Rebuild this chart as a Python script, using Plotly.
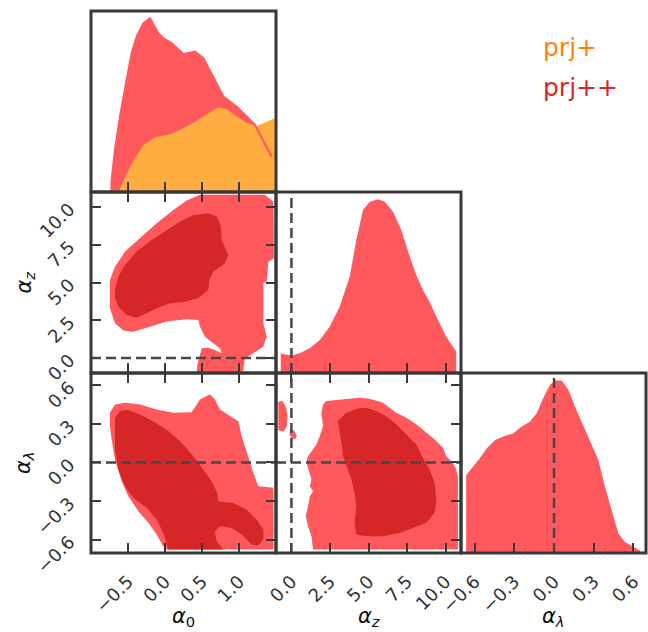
import plotly.graph_objects as go

# ---------------------------------------------------------------------------
# Parameter ranges, ticks and reference values
# ---------------------------------------------------------------------------
a0_range = [-1.0, 1.5]
az_range = [-1.0, 11.0]
al_range = [-0.703, 0.695]
dens_range = [0.0, 1.04]

a0_ticks = [-0.5, 0.0, 0.5, 1.0]
az_ticks = [0.0, 2.5, 5.0, 7.5, 10.0]
al_ticks = [-0.6, -0.3, 0.0, 0.3, 0.6]

az_ref = 0.0
al_ref = 0.0

# ---------------------------------------------------------------------------
# 1D marginals (peak-normalised)
# ---------------------------------------------------------------------------
a0_pp_x = [-0.725, -0.720, -0.676, -0.608, -0.518, -0.450, -0.382, -0.293, -0.203,
           -0.091, -0.023, 0.091, 0.247, 0.405, 0.518, 0.653, 0.788, 0.969, 1.104,
           1.216, 1.239, 1.442]
a0_pp_y = [0.0, 0.069, 0.241, 0.431, 0.644, 0.797, 0.892, 0.969, 0.998,
           0.912, 0.883, 0.854, 0.793, 0.806, 0.768, 0.662, 0.548, 0.490, 0.433,
           0.385, 0.366, 0.203]

a0_p_x = [-0.620, -0.608, -0.585, -0.473, -0.293, -0.135, 0.068, 0.203, 0.405,
          0.585, 0.720, 0.834, 0.969, 1.104, 1.239, 1.500]
a0_p_y = [0.0, 0.021, 0.040, 0.145, 0.270, 0.314, 0.332, 0.356, 0.404,
          0.452, 0.487, 0.475, 0.433, 0.398, 0.379, 0.427]

az_pp_x = [-0.69, -0.54, 0.0, 0.54, 1.19, 1.84, 2.48, 3.13, 3.78, 4.21, 4.64, 5.08,
           5.62, 6.05, 6.59, 7.13, 7.67, 8.10, 8.53, 8.96, 9.40, 10.04, 10.69]
az_pp_y = [0.113, 0.109, 0.100, 0.113, 0.142, 0.190, 0.266, 0.381, 0.553, 0.764,
           0.936, 0.984, 0.998, 0.984, 0.927, 0.822, 0.670, 0.563, 0.477, 0.410,
           0.324, 0.209, 0.123]

al_pp_x = [-0.664, -0.621, -0.571, -0.508, -0.445, -0.370, -0.307, -0.244, -0.181,
           -0.131, -0.081, -0.030, 0.008, 0.058, 0.108, 0.158, 0.221, 0.284, 0.335,
           0.385, 0.435, 0.486, 0.536, 0.599, 0.649]
al_pp_y = [0.450, 0.489, 0.537, 0.605, 0.653, 0.677, 0.692, 0.731, 0.760,
           0.808, 0.895, 0.972, 0.997, 0.997, 0.943, 0.847, 0.740, 0.634, 0.537,
           0.383, 0.247, 0.112, 0.064, 0.039, 0.015]

# ---------------------------------------------------------------------------
# 2D credible regions (68% inner, 95% outer)
# ---------------------------------------------------------------------------
# alpha_0 vs alpha_z
a0az_95_x = [-0.744, -0.676, -0.541, -0.338, -0.113, 0.112, 0.293, 0.473, 0.923, 1.351,
             1.464, 1.473, 1.396, 1.374, 1.329, 1.329, 1.374, 1.329, 1.193, 1.081,
             1.049, 0.428, 0.437, 0.495, 0.585, 0.675, 0.765, 0.743, 0.653, 0.540,
             0.473, 0.450, 0.293, 0.022, -0.203, -0.428, -0.563, -0.676, -0.744]
a0az_95_y = [5.17, 6.05, 7.05, 7.93, 8.93, 9.81, 10.43, 10.81, 10.81, 10.81,
             10.36, 6.61, 6.38, 5.06, 4.95, 2.30, 1.41, 0.75, 0.31, -0.03,
             -1.0, -1.0, -0.47, 0.64, 0.68, 0.53, 0.31, 0.64, 0.97, 1.41,
             2.07, 2.52, 2.56, 2.41, 2.07, 1.74, 1.81, 2.30, 3.29]
a0az_68_x = [-0.676, -0.631, -0.541, -0.383, -0.180, 0.022, 0.202, 0.383, 0.585, 0.698,
             0.752, 0.765, 0.856, 0.811, 0.653, 0.599, 0.585, 0.450, 0.270, 0.067,
             -0.113, -0.248, -0.383, -0.518, -0.631, -0.676]
a0az_68_y = [4.51, 5.39, 6.16, 7.05, 7.82, 8.48, 9.04, 9.48, 9.59, 9.37,
             8.82, 7.82, 6.83, 6.27, 5.72, 5.17, 4.51, 3.95, 3.73, 3.62,
             3.29, 2.96, 2.67, 2.85, 3.40, 3.95]

# alpha_0 vs alpha_lambda
a0al_95_x = [-0.744, -0.676, -0.541, -0.338, -0.113, 0.112, 0.360, 0.473, 0.608, 0.675,
             0.743, 0.878, 0.991, 1.036, 1.103, 1.193, 1.261, 1.464, 1.464, 0.0,
             -0.113, -0.225, -0.361, -0.496, -0.586, -0.676, -0.721, -0.744]
a0al_95_y = [0.386, 0.451, 0.464, 0.451, 0.412, 0.386, 0.391, 0.490, 0.529, 0.490,
             0.412, 0.360, 0.321, 0.205, 0.075, -0.080, -0.184, -0.197, -0.676, -0.676,
             -0.560, -0.469, -0.378, -0.262, -0.145, 0.023, 0.179, 0.283]
a0al_68_x = [-0.676, -0.608, -0.496, -0.338, -0.158, 0.045, 0.225, 0.383, 0.518, 0.630,
             0.707, 0.720, 0.923, 1.103, 1.238, 1.329, 1.329, 1.261, 1.171, 1.036,
             0.901, 0.743, 0.675, 0.698, 0.788, 0.045, -0.023, -0.113, -0.248, -0.428,
             -0.541, -0.631, -0.676, -0.676]
a0al_68_y = [0.347, 0.399, 0.407, 0.373, 0.321, 0.244, 0.153, 0.049, -0.054, -0.145,
             -0.236, -0.301, -0.314, -0.365, -0.443, -0.521, -0.599, -0.645, -0.637, -0.560,
             -0.508, -0.495, -0.534, -0.612, -0.676, -0.676, -0.547, -0.443, -0.352, -0.275,
             -0.184, -0.054, 0.101, 0.231]

# alpha_z vs alpha_lambda
azal_95_x = [2.05, 2.27, 2.92, 3.78, 4.43, 5.08, 5.94, 6.80, 7.45, 8.10,
             8.75, 9.29, 9.83, 10.04, 10.48, 10.69, 10.80, 10.80, 1.40, 1.30,
             1.08, 0.93, 1.08, 1.19, 1.40, 1.19, 1.30, 1.08, 0.97, 1.08,
             1.40, 1.62, 1.84, 2.05, 1.94]
azal_95_y = [0.451, 0.477, 0.485, 0.495, 0.503, 0.495, 0.464, 0.386, 0.347, 0.296,
             0.231, 0.179, 0.114, 0.049, -0.003, -0.054, -0.106, -0.676, -0.676, -0.573,
             -0.495, -0.417, -0.340, -0.262, -0.223, -0.184, -0.132, -0.054, 0.003, 0.049,
             0.101, 0.140, 0.205, 0.283, 0.386]
azal_68_x = [3.02, 3.56, 4.32, 4.86, 5.51, 6.16, 6.80, 7.45, 8.10, 8.53,
             8.96, 9.29, 9.40, 9.29, 8.75, 7.88, 7.02, 5.94, 4.86, 4.21,
             4.10, 4.21, 4.10, 3.89, 3.56, 3.35, 3.24, 3.13]
azal_68_y = [0.321, 0.386, 0.420, 0.425, 0.399, 0.360, 0.296, 0.218, 0.140, 0.036,
             -0.054, -0.158, -0.288, -0.391, -0.469, -0.508, -0.547, -0.573, -0.573, -0.560,
             -0.469, -0.340, -0.236, -0.132, -0.028, 0.049, 0.153, 0.231]
# small detached 95% islands
azal_isl1_x = [-0.85, -0.60, -0.35, -0.25, -0.30, -0.50, -0.85]
azal_isl1_y = [0.47, 0.48, 0.43, 0.36, 0.28, 0.24, 0.25]
azal_isl2_x = [-0.10, 0.15, 0.35, 0.25, 0.00, -0.12]
azal_isl2_y = [0.26, 0.25, 0.21, 0.18, 0.19, 0.22]
azal_isl3_x = [6.70, 6.90, 7.20, 7.35]
azal_isl3_y = [-0.670, -0.640, -0.645, -0.670]

# ---------------------------------------------------------------------------
# Styling
# ---------------------------------------------------------------------------
C_LIGHT = "#FF595E"
C_DARK = "#D62728"
C_ORANGE = "#FFAC40"
C_LEG_ORANGE = "#FF7F0E"
C_LEG_RED = "#D62728"
FRAME = "#383838"
REF_LINE = "#474747"
TICK_FONT = dict(family="DejaVu Sans", size=18, color="#333333")
LABEL_FONT = dict(family="DejaVu Sans", size=21, color="#111111")

W, H = 648, 632
col_px = [91, 276, 461, 646]
row_px = [11, 192, 373, 553]
xdom = [[col_px[i] / W, col_px[i + 1] / W] for i in range(3)]
ydom = [[1 - row_px[i + 1] / H, 1 - row_px[i] / H] for i in range(3)]


def fmt(v):
    return f"{v:.1f}".replace("-", "\u2212")


fig = go.Figure()

# panel id -> (row, col)
panels = {1: (0, 0), 2: (1, 0), 3: (2, 0), 4: (1, 1), 5: (2, 1), 6: (2, 2)}


def ax(n, letter):
    return letter if n == 1 else f"{letter}{n}"


def add_fill(n, xs, ys, color, mode="toself"):
    fig.add_trace(go.Scatter(
        x=xs, y=ys, xaxis=ax(n, "x"), yaxis=ax(n, "y"), mode="lines",
        line=dict(width=0, color=color), fill=mode, fillcolor=color,
        hoverinfo="skip", showlegend=False))


# diagonal marginals
add_fill(1, a0_pp_x, a0_pp_y, C_LIGHT, "tozeroy")
add_fill(1, a0_p_x, a0_p_y, C_ORANGE, "tozeroy")
fig.add_trace(go.Scatter(x=a0_pp_x, y=a0_pp_y, xaxis="x", yaxis="y", mode="lines",
                         line=dict(width=2.2, color=C_LIGHT), hoverinfo="skip",
                         showlegend=False))
add_fill(4, az_pp_x, az_pp_y, C_LIGHT, "tozeroy")
add_fill(6, al_pp_x, al_pp_y, C_LIGHT, "tozeroy")

# 2D regions
add_fill(2, a0az_95_x, a0az_95_y, C_LIGHT)
add_fill(2, a0az_68_x, a0az_68_y, C_DARK)
add_fill(3, a0al_95_x, a0al_95_y, C_LIGHT)
add_fill(3, a0al_68_x, a0al_68_y, C_DARK)
add_fill(5, azal_95_x, azal_95_y, C_LIGHT)
add_fill(5, azal_isl1_x, azal_isl1_y, C_LIGHT)
add_fill(5, azal_isl2_x, azal_isl2_y, C_LIGHT)
add_fill(5, azal_isl3_x, azal_isl3_y, C_LIGHT)
add_fill(5, azal_68_x, azal_68_y, C_DARK)

# ---------------------------------------------------------------------------
# Axes
# ---------------------------------------------------------------------------
x_ranges = [a0_range, az_range, al_range]
x_ticks = [a0_ticks, az_ticks, al_ticks]
y_ranges = [None, az_range, al_range]
y_ticks = [None, az_ticks, al_ticks]

base = dict(showgrid=False, zeroline=False, showline=True, linewidth=1,
            linecolor=FRAME, ticks="inside", ticklen=10, tickwidth=2,
            tickcolor=FRAME, tickfont=TICK_FONT, tickangle=-45, fixedrange=True,
            automargin=False)

layout_axes = {}
for n, (r, c) in panels.items():
    diag = (r == c)
    xa = dict(base, domain=xdom[c], anchor=ax(n, "y"), range=x_ranges[c],
              tickvals=x_ticks[c], ticktext=[fmt(v) for v in x_ticks[c]],
              showticklabels=(r == 2), mirror=(True if diag else "ticks"),
              ticklabelstandoff=10)
    if diag:
        ya = dict(domain=ydom[r], anchor=ax(n, "x"), range=dens_range, showgrid=False,
                  zeroline=False, showticklabels=False, ticks="", showline=False,
                  fixedrange=True, automargin=False)
    else:
        ya = dict(base, domain=ydom[r], anchor=ax(n, "x"), range=y_ranges[r],
                  tickvals=y_ticks[r], ticktext=[fmt(v) for v in y_ticks[r]],
                  showticklabels=(c == 0), ticklabelstandoff=17)
        if c == 0:
            ya["mirror"] = "ticks"
        else:
            ya["side"] = "right"
            ya["mirror"] = True
    layout_axes["xaxis" if n == 1 else f"xaxis{n}"] = xa
    layout_axes["yaxis" if n == 1 else f"yaxis{n}"] = ya

shapes = []
# reference (true-value) dashed lines
dash = dict(color=REF_LINE, width=2.5, dash="10px,5px")
shapes.append(dict(type="line", xref="x2 domain", yref="y2", x0=0, x1=1,
                   y0=az_ref, y1=az_ref, line=dash, layer="above"))
shapes.append(dict(type="line", xref="x3 domain", yref="y3", x0=0, x1=1,
                   y0=al_ref, y1=al_ref, line=dash, layer="above"))
shapes.append(dict(type="line", xref="x4", yref="y4 domain", x0=az_ref, x1=az_ref,
                   y0=0, y1=1, line=dash, layer="above"))
shapes.append(dict(type="line", xref="x5", yref="y5 domain", x0=az_ref, x1=az_ref,
                   y0=0, y1=1, line=dash, layer="above"))
shapes.append(dict(type="line", xref="x5 domain", yref="y5", x0=0, x1=1,
                   y0=al_ref, y1=al_ref, line=dash, layer="above"))
shapes.append(dict(type="line", xref="x6", yref="y6 domain", x0=al_ref, x1=al_ref,
                   y0=0, y1=1, line=dash, layer="above"))
# panel frames
for n in panels:
    shapes.append(dict(type="rect", xref=f"{ax(n, 'x')} domain", yref=f"{ax(n, 'y')} domain",
                       x0=0, x1=1, y0=0, y1=1, line=dict(color=FRAME, width=3),
                       fillcolor="rgba(0,0,0,0)", layer="above"))

annotations = []
xlabels = ["<i>α</i><sub>0</sub>", "<i>α</i><sub><i>z</i></sub>", "<i>α</i><sub><i>λ</i></sub>"]
for c, txt in enumerate(xlabels):
    annotations.append(dict(text=txt, xref="paper", yref="paper",
                            x=(col_px[c] + col_px[c + 1]) / 2 / W, y=1 - 617 / H,
                            xanchor="center", yanchor="middle", showarrow=False,
                            font=LABEL_FONT))
for r, txt in [(1, xlabels[1]), (2, xlabels[2])]:
    annotations.append(dict(text=txt, xref="paper", yref="paper",
                            x=24 / W, y=1 - (row_px[r] + row_px[r + 1]) / 2 / H,
                            xanchor="center", yanchor="middle", showarrow=False,
                            textangle=-90, font=LABEL_FONT))
# legend entries
for txt, col, ypx in [("prj+", C_LEG_ORANGE, 48), ("prj++", C_LEG_RED, 87)]:
    annotations.append(dict(text=txt, xref="paper", yref="paper", x=541 / W,
                            y=1 - ypx / H, xanchor="left", yanchor="middle",
                            showarrow=False,
                            font=dict(family="DejaVu Sans", size=25, color=col)))

fig.update_layout(width=W, height=H, margin=dict(l=0, r=0, t=0, b=0, pad=0),
                  paper_bgcolor="white", plot_bgcolor="white", showlegend=False,
                  shapes=shapes, annotations=annotations, **layout_axes)

fig.write_html("out.html")
